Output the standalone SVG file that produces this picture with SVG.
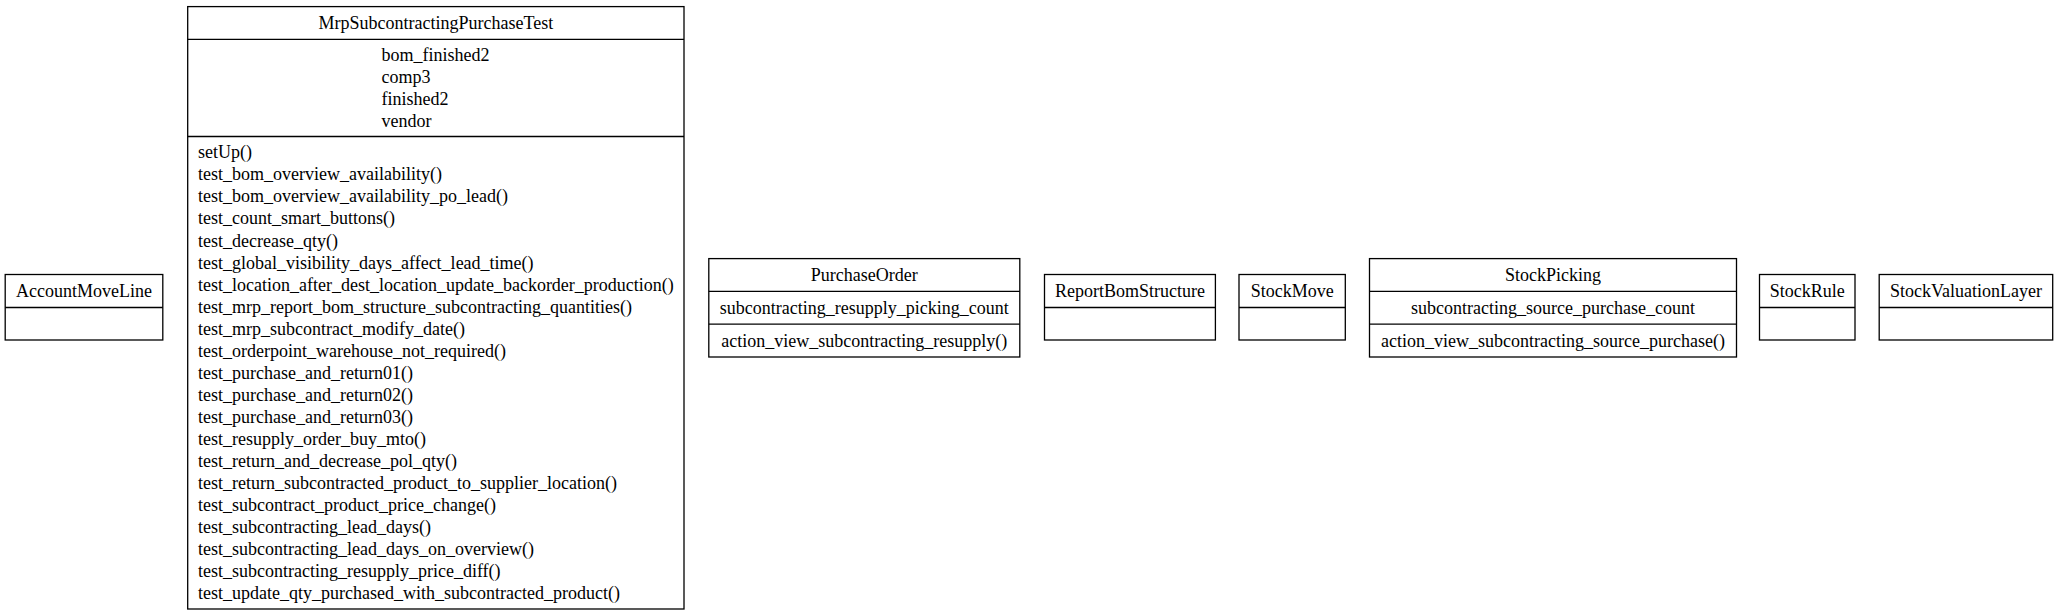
<svg xmlns="http://www.w3.org/2000/svg" width="2058" height="616" viewBox="0 0 2058 616">
<style>
.box{fill:#ffffff;stroke:#000000;stroke-width:1.3}
.sep{stroke:#000000;stroke-width:1.3}
text{font-family:"Liberation Serif","Times New Roman",serif;font-size:18px;fill:#000000}
.c{text-anchor:middle}
.l{text-anchor:start}
</style>
<rect x="0" y="0" width="2058" height="616" fill="#ffffff"/>
<g id="connectors"></g>
<g id="AccountMoveLine">
<rect class="box" x="5.2" y="274.5" width="157.6" height="65.5"/>
<line class="sep" x1="5.2" y1="307.5" x2="162.8" y2="307.5"/>
<text class="c" x="84" y="297.3">AccountMoveLine</text>
</g>
<g id="MrpSubcontractingPurchaseTest">
<rect class="box" x="187.7" y="6.6" width="496.3" height="602.4"/>
<line class="sep" x1="187.7" y1="39.4" x2="684" y2="39.4"/>
<line class="sep" x1="187.7" y1="136.5" x2="684" y2="136.5"/>
<text class="c" x="435.8" y="29">MrpSubcontractingPurchaseTest</text>
<text class="l" x="381.5" y="60.8">bom_finished2</text>
<text class="l" x="381.5" y="82.9">comp3</text>
<text class="l" x="381.5" y="104.9">finished2</text>
<text class="l" x="381.5" y="127">vendor</text>
<text class="l" x="198" y="158.3">setUp()</text>
<text class="l" x="198" y="180.35">test_bom_overview_availability()</text>
<text class="l" x="198" y="202.4">test_bom_overview_availability_po_lead()</text>
<text class="l" x="198" y="224.45">test_count_smart_buttons()</text>
<text class="l" x="198" y="246.5">test_decrease_qty()</text>
<text class="l" x="198" y="268.55">test_global_visibility_days_affect_lead_time()</text>
<text class="l" x="198" y="290.6">test_location_after_dest_location_update_backorder_production()</text>
<text class="l" x="198" y="312.65">test_mrp_report_bom_structure_subcontracting_quantities()</text>
<text class="l" x="198" y="334.7">test_mrp_subcontract_modify_date()</text>
<text class="l" x="198" y="356.75">test_orderpoint_warehouse_not_required()</text>
<text class="l" x="198" y="378.8">test_purchase_and_return01()</text>
<text class="l" x="198" y="400.85">test_purchase_and_return02()</text>
<text class="l" x="198" y="422.9">test_purchase_and_return03()</text>
<text class="l" x="198" y="444.95">test_resupply_order_buy_mto()</text>
<text class="l" x="198" y="467">test_return_and_decrease_pol_qty()</text>
<text class="l" x="198" y="489.05">test_return_subcontracted_product_to_supplier_location()</text>
<text class="l" x="198" y="511.1">test_subcontract_product_price_change()</text>
<text class="l" x="198" y="533.15">test_subcontracting_lead_days()</text>
<text class="l" x="198" y="555.2">test_subcontracting_lead_days_on_overview()</text>
<text class="l" x="198" y="577.25">test_subcontracting_resupply_price_diff()</text>
<text class="l" x="198" y="599.3">test_update_qty_purchased_with_subcontracted_product()</text>
</g>
<g id="PurchaseOrder">
<rect class="box" x="708.8" y="258.6" width="311" height="98.4"/>
<line class="sep" x1="708.8" y1="291.4" x2="1019.8" y2="291.4"/>
<line class="sep" x1="708.8" y1="324.2" x2="1019.8" y2="324.2"/>
<text class="c" x="864.3" y="281">PurchaseOrder</text>
<text class="c" x="864.3" y="313.8">subcontracting_resupply_picking_count</text>
<text class="c" x="864.3" y="346.6">action_view_subcontracting_resupply()</text>
</g>
<g id="ReportBomStructure">
<rect class="box" x="1044.5" y="274.5" width="170.9" height="65.5"/>
<line class="sep" x1="1044.5" y1="307.5" x2="1215.4" y2="307.5"/>
<text class="c" x="1130" y="297.3">ReportBomStructure</text>
</g>
<g id="StockMove">
<rect class="box" x="1239" y="274.5" width="106.3" height="65.5"/>
<line class="sep" x1="1239" y1="307.5" x2="1345.3" y2="307.5"/>
<text class="c" x="1292.2" y="297.3">StockMove</text>
</g>
<g id="StockPicking">
<rect class="box" x="1369.5" y="258.6" width="367" height="98.4"/>
<line class="sep" x1="1369.5" y1="291.4" x2="1736.5" y2="291.4"/>
<line class="sep" x1="1369.5" y1="324.2" x2="1736.5" y2="324.2"/>
<text class="c" x="1553" y="281">StockPicking</text>
<text class="c" x="1553" y="313.8">subcontracting_source_purchase_count</text>
<text class="c" x="1553" y="346.6">action_view_subcontracting_source_purchase()</text>
</g>
<g id="StockRule">
<rect class="box" x="1759.5" y="274.5" width="95.5" height="65.5"/>
<line class="sep" x1="1759.5" y1="307.5" x2="1855" y2="307.5"/>
<text class="c" x="1807.2" y="297.3">StockRule</text>
</g>
<g id="StockValuationLayer">
<rect class="box" x="1879.2" y="274.5" width="173.5" height="65.5"/>
<line class="sep" x1="1879.2" y1="307.5" x2="2052.7" y2="307.5"/>
<text class="c" x="1966" y="297.3">StockValuationLayer</text>
</g>
</svg>
